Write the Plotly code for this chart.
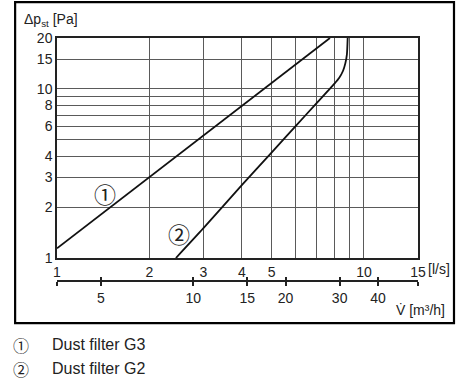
import plotly.graph_objects as go

# Volume flow in l/s and static pressure drop in Pa for the two filter classes
flow_g3 = [1.0, 2.0, 3.0, 4.0, 5.0, 6.0, 7.0, 7.75]
dp_g3 = [1.14, 3.0, 5.3, 7.9, 10.8, 14.0, 17.4, 20.0]

flow_g2 = [2.44, 3.0, 4.0, 5.0, 6.0, 7.0, 8.0, 8.3, 8.55, 8.7, 8.8, 8.85]
dp_g2 = [1.0, 1.5, 2.7, 4.2, 6.05, 8.2, 10.7, 11.6, 12.8, 14.2, 16.0, 20.0]

# Axis ticks (labelled) and extra grid lines (unlabelled)
x_ticks = [1, 2, 3, 4, 5, 10, 15]
x_grid_extra = [6, 7, 8, 9]
y_ticks = [1, 2, 3, 4, 6, 8, 10, 15, 20]
y_grid_extra = [5, 7, 9]
m3h_ticks = [5, 10, 15, 20, 30, 40]
m3h_ends = [3.6, 54]

FONT = "Liberation Sans, Arial, sans-serif"
GRID = "#5a5a5a"
CIRC = "Noto Sans CJK JP, DejaVu Sans"

fig = go.Figure()
fig.add_trace(go.Scatter(x=flow_g3, y=dp_g3, mode="lines",
                         line=dict(color="#111", width=1.8), showlegend=False))
fig.add_trace(go.Scatter(x=flow_g2, y=dp_g2, mode="lines",
                         line=dict(color="#111", width=1.8, shape="spline", smoothing=0.6),
                         showlegend=False))
# empty traces that bind the m³/h scale (drawn on two overlaid axes for crossing ticks)
fig.add_trace(go.Scatter(x=[10], y=[None], xaxis="x2", mode="lines",
                         showlegend=False, hoverinfo="skip"))
fig.add_trace(go.Scatter(x=[10], y=[None], xaxis="x3", mode="lines",
                         showlegend=False, hoverinfo="skip"))

# Curve markers
fig.add_annotation(x=0.156, y=0.385, xref="x", yref="y", text="①", showarrow=False,
                   font=dict(size=22, color="#222", family=CIRC))
fig.add_annotation(x=0.398, y=0.146, xref="x", yref="y", text="②", showarrow=False,
                   font=dict(size=22, color="#222", family=CIRC))

fig.update_layout(
    width=462, height=383,
    margin=dict(l=57, r=44, t=38, b=102),
    paper_bgcolor="white", plot_bgcolor="white",
    font=dict(family=FONT, size=14, color="#222"),
    xaxis=dict(type="log", range=[0, 1.17609], tickvals=x_ticks,
               ticktext=[str(v) for v in x_ticks],
               showgrid=True, gridcolor=GRID, gridwidth=1,
               minor=dict(tickvals=x_grid_extra, showgrid=True, gridcolor=GRID, gridwidth=1, ticks=""),
               showline=True, linecolor="#222", linewidth=1.5, mirror=True,
               ticks="", zeroline=False, anchor="y"),
    yaxis=dict(type="log", range=[0, 1.30103], tickvals=y_ticks,
               ticktext=[str(v) for v in y_ticks],
               domain=[0.0947, 1], showgrid=True, gridcolor=GRID, gridwidth=1,
               minor=dict(tickvals=y_grid_extra, showgrid=True, gridcolor=GRID, gridwidth=1, ticks=""),
               showline=True, linecolor="#222", linewidth=1.5, mirror=True,
               ticks="", zeroline=False),
    xaxis2=dict(type="log", range=[0.5563, 1.7324], tickvals=m3h_ticks,
                ticktext=[str(v) for v in m3h_ticks],
                overlaying="x", anchor="free", position=0, side="bottom",
                showgrid=False, showline=True, linecolor="#222", linewidth=1.5,
                ticks="outside", ticklen=4, tickwidth=1.5, tickcolor="#222",
                minor=dict(tickvals=m3h_ends, ticks="outside", ticklen=4, tickwidth=1.5,
                           tickcolor="#222", showgrid=False),
                zeroline=False),
    xaxis3=dict(type="log", range=[0.5563, 1.7324], tickvals=m3h_ticks, showticklabels=False,
                overlaying="x", anchor="free", position=0, side="bottom",
                showgrid=False, showline=False,
                ticks="inside", ticklen=4, tickwidth=1.5, tickcolor="#222",
                minor=dict(tickvals=m3h_ends, ticks="inside", ticklen=4, tickwidth=1.5,
                           tickcolor="#222", showgrid=False),
                zeroline=False),
)

# Outer frame
fig.add_shape(type="rect", xref="paper", yref="paper",
              x0=-0.116, x1=1.0997, y0=-0.173, y1=1.148,
              line=dict(color="black", width=2.2))

# Axis titles
fig.add_annotation(xref="paper", yref="paper", x=-0.097, y=1.073, xanchor="left", yanchor="middle",
                   text="Δp<sub>st</sub> [Pa]", showarrow=False, font=dict(size=14))
fig.add_annotation(xref="paper", yref="paper", x=1.022, y=0.049, xanchor="left", yanchor="middle",
                   text="[l/s]", showarrow=False, font=dict(size=14))
fig.add_annotation(xref="paper", yref="paper", x=1.08, y=-0.119, xanchor="right", yanchor="middle",
                   text="V\u0307 [m³/h]", showarrow=False, font=dict(size=14))

# Legend lines
fig.add_annotation(xref="paper", yref="paper", x=-0.1, y=-0.263, xanchor="center", yanchor="middle",
                   text="①", showarrow=False, font=dict(size=16, family=CIRC))
fig.add_annotation(xref="paper", yref="paper", x=-0.019, y=-0.263, xanchor="left", yanchor="middle",
                   text="Dust filter G3", showarrow=False, font=dict(size=16))
fig.add_annotation(xref="paper", yref="paper", x=-0.1, y=-0.362, xanchor="center", yanchor="middle",
                   text="②", showarrow=False, font=dict(size=16, family=CIRC))
fig.add_annotation(xref="paper", yref="paper", x=-0.019, y=-0.362, xanchor="left", yanchor="middle",
                   text="Dust filter G2", showarrow=False, font=dict(size=16))

fig.write_html("out.html")
